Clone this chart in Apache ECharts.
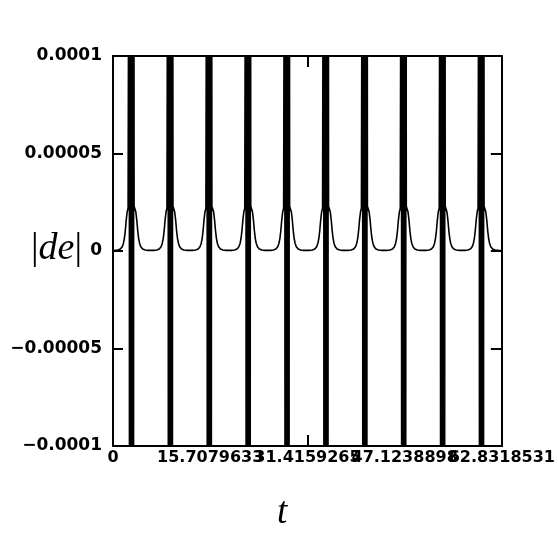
<!DOCTYPE html>
<html>
<head>
<meta charset="utf-8">
<script src="https://cdn.jsdelivr.net/npm/echarts@6/dist/echarts.min.js"></script>
<style>html,body{margin:0;padding:0;background:#fff}#c{width:558px;height:558px}</style>
</head>
<body>
<div id="c"></div>
<script>
// tick labels
const tTickLabels = ["0", "15.7079633", "31.4159265", "47.1238898", "62.8318531"];
const yTickLabels = ["\u22120.0001", "\u22120.00005", "0", "0.00005", "0.0001"];
// spike positions (t)
const spikeCenters = [2.99, 9.27, 15.56, 21.84, 28.12, 34.41, 40.69, 46.97, 53.26, 59.54];
// flank profile around each spike: distance from spike centre and |de| value
const flankOffsets = [0.42, 0.55, 0.7, 0.85, 1.0, 1.15, 1.3, 1.5, 1.8, 2.2, 2.7];
const flankValues = [0.000023, 0.000022, 0.00002, 0.000016, 0.0000105, 0.0000065, 0.000004, 0.0000022, 0.000001, 0.0000005, 0.0000003];
// oscillating burst at each spike
const burstOffsets = [-0.36, -0.32, -0.28, -0.24, -0.2, -0.16, -0.12, -0.08, -0.04, 0, 0.04, 0.08, 0.12, 0.16, 0.2, 0.24, 0.28, 0.32, 0.36];
const burstValues = [0.0003, -0.0003, 0.0003, -0.0003, 0.0003, -0.0003, 0.0003, -0.0003, 0.0003, -0.0003, 0.0003, -0.0003, 0.0003, -0.0003, 0.0003, -0.0003, 0.0003, -0.0003, 0.0003];
// ends of the range
const edgeT = [0, 62.8318531];
const edgeValues = [0.0000002, 0.0000002];

const T_MAX = 62.8318531;
const T_STEP = 15.70796327;

const pts = [];
pts.push([edgeT[0], edgeValues[0]]);
spikeCenters.forEach(c => {
  for (let i = flankOffsets.length - 1; i >= 0; i--) pts.push([c - flankOffsets[i], flankValues[i]]);
  for (let i = 0; i < burstOffsets.length; i++) pts.push([c + burstOffsets[i], burstValues[i]]);
  for (let i = 0; i < flankOffsets.length; i++) pts.push([c + flankOffsets[i], flankValues[i]]);
});
pts.push([edgeT[1], edgeValues[1]]);

const xFont = {fontFamily: 'DejaVu Sans', fontWeight: 'bold', fontSize: 16, color: '#000'};
const yFont = {fontFamily: 'DejaVu Sans', fontWeight: 'bold', fontSize: 17, color: '#000'};
const lineStyle = {color: '#000', width: 2};

const chart = echarts.init(document.getElementById('c'), null, {renderer: 'canvas'});
chart.setOption({
  animation: false,
  backgroundColor: '#fff',
  grid: {left: 113, right: 56, top: 56, bottom: 112, containLabel: false},
  xAxis: [{
    type: 'value', min: 0, max: T_MAX, interval: T_STEP, position: 'bottom',
    axisLine: {show: true, onZero: false, lineStyle: lineStyle},
    axisTick: {show: true, inside: true, length: 11, lineStyle: lineStyle},
    splitLine: {show: false},
    axisLabel: Object.assign({margin: 4, showMinLabel: true, showMaxLabel: true,
      formatter: v => tTickLabels[Math.round(v / T_STEP)]}, xFont)
  }, {
    type: 'value', min: 0, max: T_MAX, interval: T_STEP, position: 'top',
    axisLine: {show: true, onZero: false, lineStyle: lineStyle},
    axisTick: {show: true, inside: true, length: 11, lineStyle: lineStyle},
    splitLine: {show: false}, axisLabel: {show: false}
  }],
  yAxis: [{
    type: 'value', min: -0.0001, max: 0.0001, interval: 0.00005, position: 'left',
    axisLine: {show: true, onZero: false, lineStyle: lineStyle},
    axisTick: {show: true, inside: true, length: 10, lineStyle: lineStyle},
    splitLine: {show: false},
    axisLabel: Object.assign({margin: 11,
      formatter: v => yTickLabels[Math.round((v + 0.0001) / 0.00005)]}, yFont)
  }, {
    type: 'value', min: -0.0001, max: 0.0001, interval: 0.00005, position: 'right',
    axisLine: {show: true, onZero: false, lineStyle: lineStyle},
    axisTick: {show: true, inside: true, length: 11, lineStyle: lineStyle},
    splitLine: {show: false}, axisLabel: {show: false}
  }],
  graphic: [{
    type: 'text', left: 31, top: 230,
    style: {
      text: '{u||}{i|de}{u||}',
      fill: '#000',
      rich: {
        u: {fontFamily: 'Liberation Serif', fontSize: 38, fill: '#000'},
        i: {fontFamily: 'Liberation Serif', fontStyle: 'italic', fontSize: 38, fill: '#000'}
      }
    }
  }, {
    type: 'text', left: 277, top: 495,
    style: {text: 't', fill: '#000', fontFamily: 'Liberation Serif', fontStyle: 'italic', fontSize: 37}
  }],
  series: [{
    type: 'line', xAxisIndex: 0, yAxisIndex: 0,
    data: pts, showSymbol: false, symbol: 'none', clip: true,
    lineStyle: {color: '#000', width: 1.6},
    silent: true
  }]
});
</script>
</body>
</html>
